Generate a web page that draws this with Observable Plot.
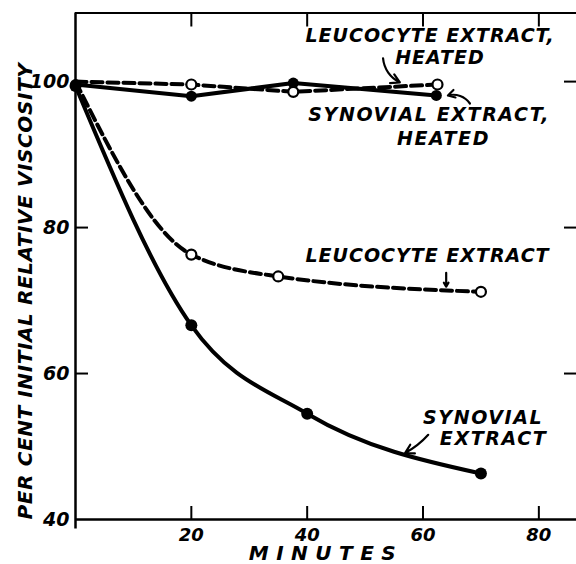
<!DOCTYPE html>
<html><head><meta charset="utf-8">
<script src="https://cdn.jsdelivr.net/npm/d3@7"></script>
<script src="https://cdn.jsdelivr.net/npm/@observablehq/plot@0.6"></script>
<style>
body{margin:0;background:#fff;}
#chart svg{display:block;}
.ann text{letter-spacing:1px;}
.ann2 text{letter-spacing:1.6px;}
.xlab text{letter-spacing:7.5px;}
.ylab text{letter-spacing:0.6px;}
</style></head><body><div id="chart"></div>
<script>
// Tick values
const xTicks = [20, 40, 60, 80];
const yTicks = [40, 60, 80, 100];
const yInnerTicks = [60, 80, 100];

// Series (minutes, per cent initial relative viscosity)
const synovialX = [0, 20, 40, 70];
const synovialY = [99.4, 66.6, 54.5, 46.3];
const leucocyteX = [0, 20, 35, 70];
const leucocyteY = [100, 76.3, 73.3, 71.2];
const synHeatedX = [0, 20, 37.6, 62.3];
const synHeatedY = [99.6, 98.0, 99.8, 98.1];
const leuHeatedX = [0, 20, 37.6, 62.5];
const leuHeatedY = [100, 99.6, 98.6, 99.6];

const xLabel = "MINUTES";
const yLabel = "PER CENT INITIAL RELATIVE VISCOSITY";

// Annotation texts and their anchor points (data units)
const annTexts = ["LEUCOCYTE EXTRACT,", "HEATED", "LEUCOCYTE EXTRACT"];
const annX = [39.7, 55.2, 39.7];
const annY = [106.3, 103.3, 76.1];
const ann2Texts = ["SYNOVIAL EXTRACT,", "HEATED", "SYNOVIAL", "EXTRACT"];
const ann2X = [40.2, 55.5, 60.0, 62.9];
const ann2Y = [95.5, 92.2, 53.9, 51.1];

// Arrows (data units) and their bend angles
const arrX1 = [53.1, 68.1, 64.0, 60.9];
const arrY1 = [103.2, 97.0, 73.8, 51.6];
const arrX2 = [56.0, 64.3, 64.0, 56.9];
const arrY2 = [99.9, 98.1, 71.9, 49.1];
const arrBend = [-30, -35, 0, 10];

const zip = (xs, ys) => xs.map((x, i) => ({x, y: ys[i]}));
const synovial = zip(synovialX, synovialY);
const leucocyte = zip(leucocyteX, leucocyteY);
const synHeated = zip(synHeatedX, synHeatedY);
const leuHeated = zip(leuHeatedX, leuHeatedY);
const annotations = annTexts.map((t, i) => ({text: t, x: annX[i], y: annY[i]}));
const annotations2 = ann2Texts.map((t, i) => ({text: t, x: ann2X[i], y: ann2Y[i]}));
const arrows = arrX1.map((x1, i) => ({x1, y1: arrY1[i], x2: arrX2[i], y2: arrY2[i], bend: arrBend[i]}));

const font = {fontWeight: "bold", fontStyle: "italic"};
const noText = () => "";

const chart = Plot.plot({
  width: 576, height: 564,
  marginLeft: 75, marginRight: 0, marginTop: 12.5, marginBottom: 45,
  style: {fontFamily: "DejaVu Sans", color: "#000", background: "#fff", overflow: "visible"},
  x: {domain: [0, 86.5]},
  y: {domain: [40, 109.4]},
  marks: [
    // frame lines
    Plot.ruleY([40], {stroke: "#000", strokeWidth: 2.5}),
    Plot.ruleY([109.4], {stroke: "#000", strokeWidth: 2}),
    Plot.ruleX([0], {y1: 38.7, y2: 109.4, stroke: "#000", strokeWidth: 2.5}),
    // inward ticks
    Plot.axisX(xTicks, {anchor: "bottom", tickSize: -13, strokeWidth: 2, tickFormat: noText, label: null}),
    Plot.axisX(xTicks, {anchor: "top", tickSize: -13, strokeWidth: 2, tickFormat: noText, label: null}),
    Plot.axisY(yInnerTicks, {anchor: "left", tickSize: -13, strokeWidth: 2, tickFormat: noText, label: null}),
    Plot.axisY(yInnerTicks, {anchor: "right", tickSize: -13, strokeWidth: 2, tickFormat: noText, label: null}),
    // tick labels
    Plot.axisX(xTicks, {anchor: "bottom", tickSize: 0, tickPadding: 9, fontSize: 18, ...font, label: null}),
    Plot.axisY(yTicks, {anchor: "left", tickSize: 0, tickPadding: 6, fontSize: 19, ...font, label: null}),
    // axis titles
    Plot.text([xLabel], {frameAnchor: "bottom", lineAnchor: "bottom", dy: 40, fontSize: 20, ...font, className: "xlab"}),
    Plot.text([yLabel], {frameAnchor: "left", textAnchor: "middle", y: () => 71.3, dx: -50, rotate: -90, fontSize: 20, ...font, className: "ylab"}),
    // series lines
    Plot.line(synovial, {x: "x", y: "y", curve: "monotone-x", stroke: "#000", strokeWidth: 4}),
    Plot.line(leucocyte, {x: "x", y: "y", curve: "monotone-x", stroke: "#000", strokeWidth: 4, strokeDasharray: "11,5"}),
    Plot.line(synHeated, {x: "x", y: "y", stroke: "#000", strokeWidth: 4}),
    Plot.line(leuHeated, {x: "x", y: "y", stroke: "#000", strokeWidth: 4, strokeDasharray: "11,5"}),
    // points
    Plot.dot(synovial, {x: "x", y: "y", r: 6, fill: "#000", stroke: "none"}),
    Plot.dot(synHeated, {x: "x", y: "y", r: 5.5, fill: "#000", stroke: "none"}),
    Plot.dot(leucocyte.slice(1), {x: "x", y: "y", r: 5, fill: "#fff", stroke: "#000", strokeWidth: 2.2}),
    Plot.dot(leuHeated.slice(1), {x: "x", y: "y", r: 5, fill: "#fff", stroke: "#000", strokeWidth: 2.2}),
    // annotations
    Plot.text(annotations, {x: "x", y: "y", text: "text", textAnchor: "start", fontSize: 19, ...font, className: "ann"}),
    Plot.text(annotations2, {x: "x", y: "y", text: "text", textAnchor: "start", fontSize: 19, ...font, className: "ann2"}),
    ...arrows.map(a => Plot.arrow([a], {x1: "x1", y1: "y1", x2: "x2", y2: "y2", bend: a.bend, stroke: "#000", strokeWidth: 2.2, headLength: 9}))
  ]
});
document.getElementById("chart").appendChild(chart);
</script>
</body></html>
